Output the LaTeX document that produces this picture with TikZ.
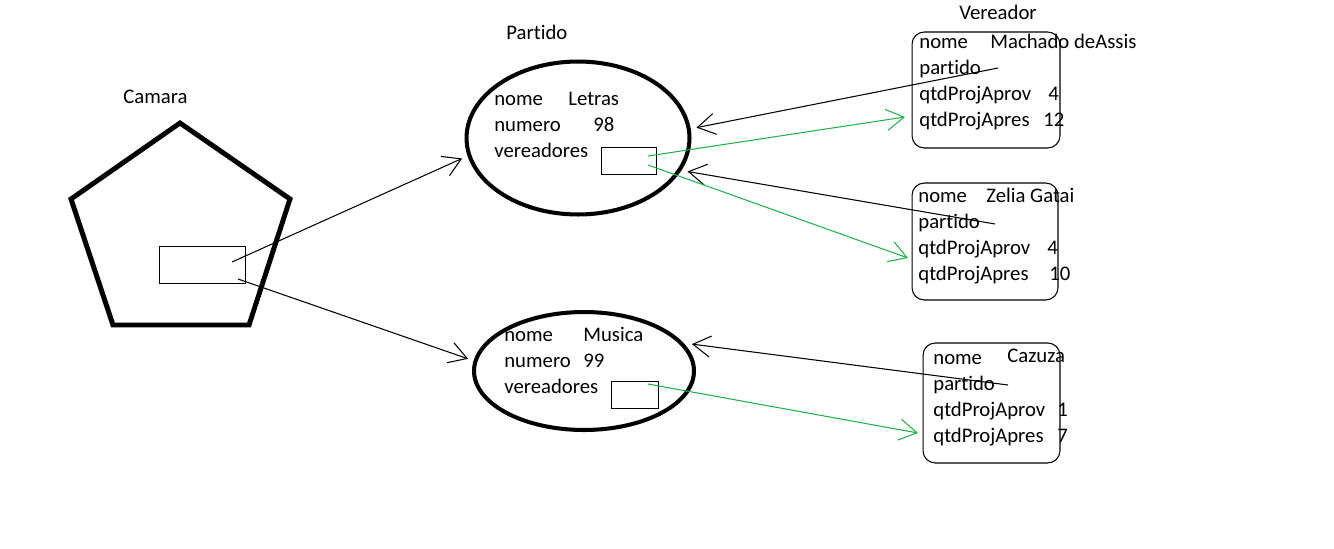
\documentclass[tikz,border=0pt]{standalone}
\usepackage{fontspec}
\setmainfont{Carlito}[Ligatures=NoCommon]
\usetikzlibrary{shapes.geometric,arrows.meta}
\definecolor{paintgreen}{RGB}{34,177,76}
\tikzset{
  txt/.style={anchor=base west, inner sep=0pt},
  caixa/.style={draw, line width=0.5pt, inner sep=0pt},
  classe/.style={ellipse, draw, line width=2.3pt, inner sep=0pt, outer sep=4.5pt},
  objeto/.style={draw, line width=0.6pt, rounded corners=7pt, inner sep=0pt},
  ligacao/.style={->, line width=0.6pt},
  lista/.style={->, line width=0.6pt, draw=paintgreen}
}
\begin{document}
\begin{tikzpicture}[x=0.02cm, y=-0.02cm, font=\fontsize{11.8pt}{14pt}\selectfont,
  >={Straight Barb[length=10pt,width=12pt]}]
\useasboundingbox (0,0) rectangle (1334,548);

% Camara
\node[txt] (camara) at (123,103) {Camara};
\draw[line width=2.8pt] (180,123) -- (290,199) -- (249,325) -- (113,325) -- (71,199) -- cycle;
\node[caixa, minimum width=1.72cm, minimum height=0.74cm] (camrect) at (202,264.5) {};
\coordinate (camA) at (232,262);
\coordinate (camB) at (238,279);

% Partido
\node[txt] (partido) at (506,39) {Partido};
\node[classe, minimum width=4.46cm, minimum height=3.06cm] (letras) at (578,138) {};
\node[txt] (lnome) at (494,105) {nome};
\node[txt] (lnomev) at (568,105) {Letras};
\node[txt] (lnum) at (494,131) {numero};
\node[txt] (lnumv) at (593,131) {98};
\node[txt] (lver) at (494,157) {vereadores};
\node[caixa, minimum width=1.1cm, minimum height=0.54cm] (lrect) at (628.5,160.5) {};
\coordinate (lA) at (648,156);
\coordinate (lB) at (648,165);

\node[classe, minimum width=4.4cm, minimum height=2.36cm] (musica) at (584,371) {};
\node[txt] (mnome) at (504,341) {nome};
\node[txt] (mnomev) at (583,341) {Musica};
\node[txt] (mnum) at (504,367) {numero};
\node[txt] (mnumv) at (583,367) {99};
\node[txt] (mver) at (504,393) {vereadores};
\node[caixa, minimum width=0.94cm, minimum height=0.54cm] (mrect) at (634.5,394.5) {};
\coordinate (mA) at (648,384);

% Vereador
\node[txt] (vereador) at (959,19) {Vereador};

\node[objeto, minimum width=2.96cm, minimum height=2.32cm] (machado) at (986,90) {};
\node[txt] (anome) at (919,48) {nome};
\node[txt] (anomev) at (990,48) {Machado deAssis};
\node[txt] (apart) at (919,74) {partido};
\node[txt] (aaprov) at (919,100) {qtdProjAprov};
\node[txt] (aaprovv) at (1048,100) {4};
\node[txt] (aapres) at (919,126) {qtdProjApres};
\node[txt] (aapresv) at (1043,126) {12};
\coordinate (aP) at (998,68);
\coordinate (aIn) at (905,117);

\node[objeto, minimum width=2.92cm, minimum height=2.34cm] (zelia) at (985,241.5) {};
\node[txt] (znome) at (918,202) {nome};
\node[txt] (znomev) at (986,202) {Zelia Gatai};
\node[txt] (zpart) at (918,228) {partido};
\node[txt] (zaprov) at (918,254) {qtdProjAprov};
\node[txt] (zaprovv) at (1047,254) {4};
\node[txt] (zapres) at (918,280) {qtdProjApres};
\node[txt] (zapresv) at (1049,280) {10};
\coordinate (zP) at (995,224);
\coordinate (zIn) at (908,258);

\node[objeto, minimum width=2.74cm, minimum height=2.4cm] (cazuza) at (991.5,403) {};
\node[txt] (cnome) at (933,364) {nome};
\node[txt] (cnomev) at (1007,362) {Cazuza};
\node[txt] (cpart) at (933,390) {partido};
\node[txt] (caprov) at (933,416) {qtdProjAprov};
\node[txt] (caprovv) at (1057,416) {1};
\node[txt] (capres) at (933,442) {qtdProjApres};
\node[txt] (capresv) at (1057,442) {7};
\coordinate (cP) at (1008,385);
\coordinate (cIn) at (918,433);

% ligacoes
\draw[ligacao] (camA) -- (letras.190);
\draw[ligacao] (camB) -- (musica.174);
\draw[ligacao] (aP) -- (letras.5);
\draw[ligacao] (zP) -- (letras.343);
\draw[ligacao] (cP) -- (musica.14);

\draw[lista] (lA) -- (aIn);
\draw[lista] (lB) -- (zIn);
\draw[lista] (mA) -- (cIn);
\end{tikzpicture}
\end{document}
